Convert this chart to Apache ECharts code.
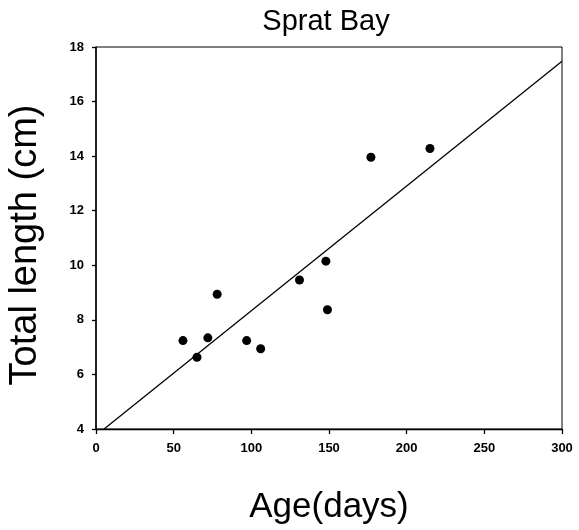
<!DOCTYPE html>
<html>
<head>
<meta charset="utf-8">
<title>Sprat Bay</title>
<script src="https://cdn.jsdelivr.net/npm/echarts@6/dist/echarts.min.js"></script>
<style>
    html, body {margin: 0; padding: 0; background: #fff;}
    #main {width: 579px; height: 530px;}
</style>
</head>
<body>
<div id="main"></div>
<script>
    // 观测点 (age in days, total length in cm)
    var ageDays = [56, 65, 72, 78, 97, 106, 131, 148, 149, 177, 215];
    var totalLength = [7.24, 6.63, 7.34, 8.94, 7.24, 6.94, 9.46, 10.15, 8.37, 13.96, 14.28];

    // 回归线两端
    var fitX = [5.2, 300];
    var fitY = [4, 17.48];

    var xTicks = [0, 50, 100, 150, 200, 250, 300];
    var yTicks = [4, 6, 8, 10, 12, 14, 16, 18];

    var pointData = [];
    for (var i = 0; i < ageDays.length; i++) {
        pointData.push([ageDays[i], totalLength[i]]);
    }
    var lineData = [];
    for (var j = 0; j < fitX.length; j++) {
        lineData.push([fitX[j], fitY[j]]);
    }

    var font = 'Liberation Sans, Arial, sans-serif';
    var chart = echarts.init(document.getElementById('main'));

    chart.setOption({
        animation: false,
        backgroundColor: '#fff',
        title: {
            text: 'Sprat Bay',
            left: 321,
            top: 2,
            textAlign: 'center',
            textStyle: {fontFamily: font, fontSize: 29, fontWeight: 'normal', color: '#000'}
        },
        grid: {
            left: 96, right: 17, top: 47, bottom: 101,
            outerBoundsMode: 'none',
            show: true, borderColor: '#000', borderWidth: 1
        },
        xAxis: {
            type: 'value',
            min: xTicks[0],
            max: xTicks[xTicks.length - 1],
            interval: 50,
            name: 'Age(days)',
            nameLocation: 'middle',
            nameGap: 61,
            nameTextStyle: {fontFamily: font, fontSize: 35, color: '#000'},
            axisLine: {lineStyle: {color: '#000', width: 1.3}},
            axisTick: {length: 5, lineStyle: {color: '#000', width: 1.3}},
            axisLabel: {margin: 13, fontFamily: font, fontSize: 13, fontWeight: 'bold', color: '#000'},
            splitLine: {show: false}
        },
        yAxis: {
            type: 'value',
            min: yTicks[0],
            max: yTicks[yTicks.length - 1],
            interval: 2,
            name: 'Total length (cm)',
            nameLocation: 'middle',
            nameGap: 51,
            nameTextStyle: {fontFamily: font, fontSize: 38, color: '#000', padding: [0, 14, 0, 0]},
            axisLine: {lineStyle: {color: '#000', width: 1.5}},
            axisTick: {length: 4, lineStyle: {color: '#000', width: 1.3}},
            axisLabel: {margin: 12, fontFamily: font, fontSize: 13, fontWeight: 'bold', color: '#000'},
            splitLine: {show: false}
        },
        series: [
            {
                type: 'line',
                data: lineData,
                showSymbol: false,
                lineStyle: {color: '#000', width: 1.3}
            },
            {
                type: 'scatter',
                data: pointData,
                symbol: 'circle',
                symbolSize: 9,
                itemStyle: {color: '#000', opacity: 1}
            }
        ]
    });
</script>
</body>
</html>
